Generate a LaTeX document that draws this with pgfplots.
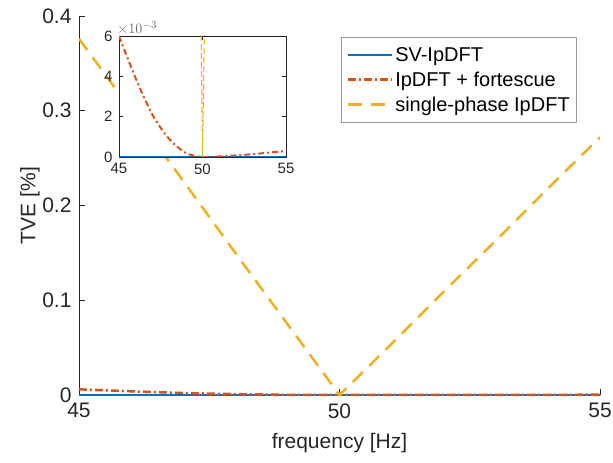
\documentclass[border=0pt]{standalone}
\usepackage{pgfplots}
\pgfplotsset{compat=1.18}
\usepackage{fontspec}
\setmainfont{Liberation Sans}
\definecolor{mblue}{rgb}{0,0.447,0.741}
\definecolor{morange}{rgb}{0.850,0.325,0.098}
\definecolor{myellow}{rgb}{0.929,0.694,0.125}
\definecolor{mgrey}{rgb}{0.15,0.15,0.15}

\pgfplotstableread{
f     sv   fort     single
45    0    0.0060   0.376
46    0    0.0039   0.301
47    0    0.0021   0.226
48    0    0.0009   0.150
49    0    0.0002   0.075
50    0    0.0000   0.000
51    0    0.00003  0.054
52    0    0.00008  0.109
53    0    0.00014  0.163
54    0    0.00022  0.218
55    0    0.00030  0.272
}\tvedata

\begin{document}
\begin{tikzpicture}
\begin{axis}[
  name=main,
  at={(0,0)}, anchor=south west,
  scale only axis,
  width=521pt, height=379pt,
  xmin=45, xmax=55, ymin=0, ymax=0.4,
  axis x line*=bottom, axis y line*=left,
  axis line style={mgrey, line width=0.6pt},
  tick style={mgrey, line width=0.6pt},
  tick align=inside,
  major tick length=6pt,
  xtick={45,50,55},
  ytick={0,0.1,0.2,0.3,0.4},
  yticklabels={0,0.1,0.2,0.3,0.4},
  scaled y ticks=false,
  /pgf/number format/assume math mode=true,
  ticklabel style={font=\fontsize{21}{24}\selectfont, text=mgrey},
  xticklabel style={yshift=-5pt},
  yticklabel style={xshift=-4pt},
  xlabel={frequency [Hz]},
  ylabel={TVE [\%]},
  label style={font=\fontsize{21}{24}\selectfont, text=mgrey},
  xlabel style={at={(axis description cs:0.5,-0.127)}, anchor=center},
  ylabel style={at={(axis description cs:-0.094,0.5)}, anchor=center},
  legend style={at={(axis description cs:0.956,0.945)}, anchor=north east,
    font=\fontsize{20}{23}\selectfont, draw=black!40, line width=0.6pt,
    inner xsep=5pt, inner ysep=8pt, row sep=5pt},
  legend cell align=left,
  legend image code/.code={\draw[#1] (0pt,0pt) -- (44pt,0pt);},
]
\addplot[mblue, line width=2.5pt] table[x=f, y=sv] {\tvedata};
\addlegendentry{SV-IpDFT}
\addplot[morange, line width=2.5pt, dash pattern=on 8pt off 3pt on 2pt off 3pt] table[x=f, y=fort] {\tvedata};
\addlegendentry{IpDFT + fortescue}
\addplot[myellow, line width=2.5pt, dash pattern=on 14pt off 9pt] table[x=f, y=single] {\tvedata};
\addlegendentry{single-phase IpDFT}
\end{axis}

\begin{axis}[
  at={(40pt,238pt)}, anchor=south west,
  scale only axis,
  width=167pt, height=121pt,
  xmin=45, xmax=55, ymin=0, ymax=0.006,
  axis line style={mgrey, line width=0.6pt},
  tick style={mgrey, line width=0.6pt},
  tick align=inside,
  major tick length=4pt,
  axis background/.style={fill=white},
  xtick={45,50,55},
  ytick={0,0.002,0.004,0.006},
  scaled y ticks=base 10:3,
  ytick scale label code/.code={$\times10^{-3}$},
  every y tick scale label/.style={at={(rel axis cs:0,1)}, anchor=south west,
    inner sep=1pt, font=\fontsize{15}{17}\selectfont, text=black!60},
  /pgf/number format/assume math mode=true,
  ticklabel style={font=\fontsize{15}{17}\selectfont, text=mgrey},
  xticklabel style={yshift=-3pt},
  yticklabel style={xshift=-3pt},
]
\addplot[mblue, line width=2.2pt] table[x=f, y=sv] {\tvedata};
\addplot[morange, line width=2pt, dash pattern=on 6pt off 3pt on 2pt off 3pt, smooth] table[x=f, y=fort] {\tvedata};
\addplot[myellow, line width=1pt, dash pattern=on 6pt off 3pt] table[x=f, y=single] {\tvedata};
\end{axis}
\pgfresetboundingbox
\path[use as bounding box] (-79pt,-68pt) rectangle (534pt,395pt);
\end{tikzpicture}
\end{document}
